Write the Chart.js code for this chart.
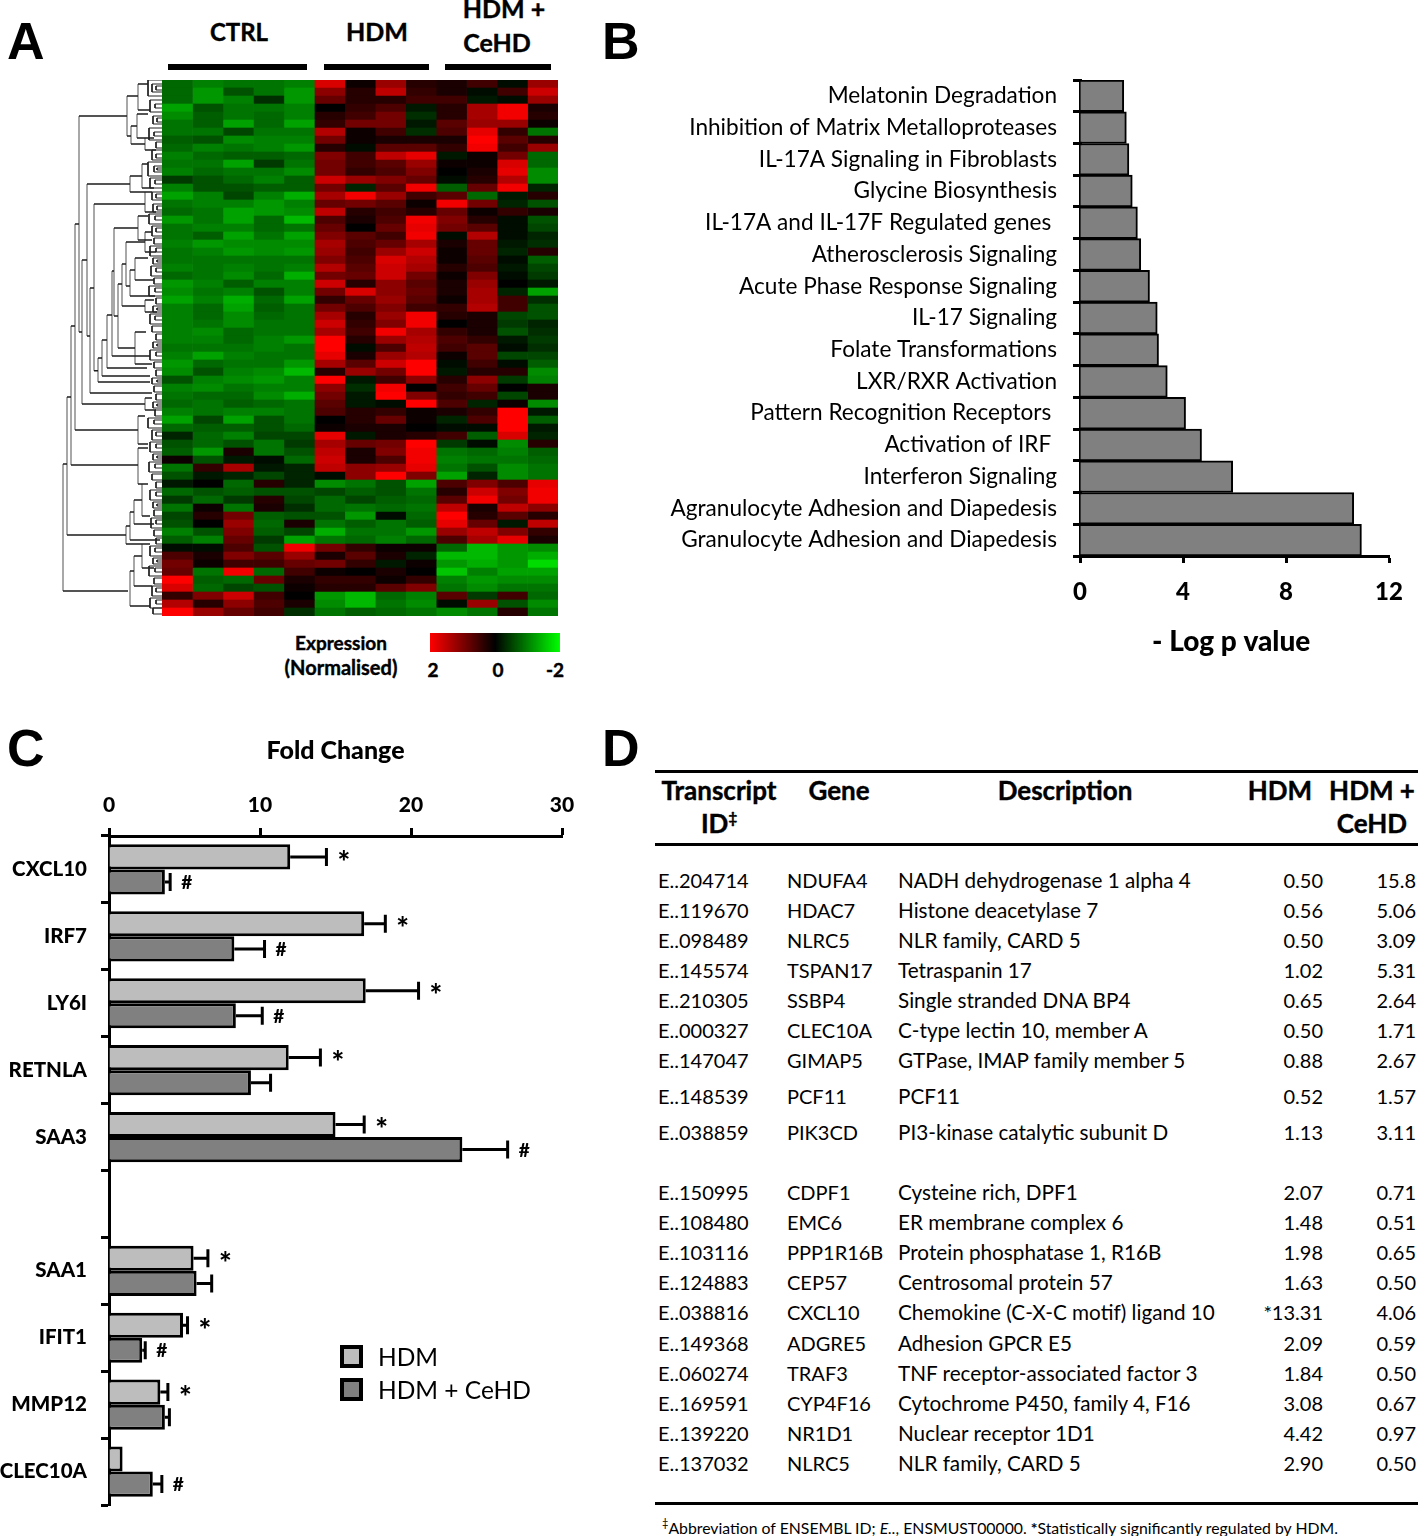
<!DOCTYPE html>
<html>
<head>
<meta charset="utf-8">
<script src="https://cdn.jsdelivr.net/npm/chart.js@4"></script>
<style>
body { margin: 0; background: #fff; width: 1418px; height: 1536px; position: relative; overflow: hidden; font-family: Lato, sans-serif; color: #000; }
canvas { position: absolute; }
.t { position: absolute; white-space: nowrap; transform: translateY(-50%); }
.b { font-weight: bold; -webkit-text-stroke: 0.4px #000; }
.c { transform: translate(-50%, -50%); }
.r { transform: translate(-100%, -50%); }
.letter { font: bold 52px "Liberation Sans", sans-serif; }
.rule { position: absolute; background: #000; }
.swatch { position: absolute; width: 15px; height: 15px; border: 4px solid #000; }
</style>
</head>
<body>
<div class="t letter" style="left:7px;top:41px">A</div>
<div class="t letter" style="left:602px;top:41px">B</div>
<div class="t letter" style="left:7px;top:748px">C</div>
<div class="t letter" style="left:602px;top:748px">D</div>

<div class="t b c" style="left:239px;top:31px;font-size:24px">CTRL</div>
<div class="t b c" style="left:377px;top:31px;font-size:25px">HDM</div>
<div class="t b c" style="left:504px;top:8px;font-size:25px">HDM +</div>
<div class="t b c" style="left:497px;top:42px;font-size:25px">CeHD</div>
<div class="rule" style="left:168px;top:64px;width:139px;height:6px"></div>
<div class="rule" style="left:324px;top:64px;width:105px;height:6px"></div>
<div class="rule" style="left:445px;top:64px;width:106px;height:6px"></div>

<canvas id="dendro" width="100" height="536" style="left:62px;top:80px"></canvas>
<canvas id="heat" width="396" height="536" style="left:162px;top:80px"></canvas>

<div class="t b c" style="left:341px;top:642px;font-size:19px">Expression</div>
<div class="t b c" style="left:341px;top:667px;font-size:20px">(Normalised)</div>
<div style="position:absolute;left:430px;top:633px;width:130px;height:19px;background:linear-gradient(to right,#f00,#000,#0f0)"></div>
<div class="t b c" style="left:433px;top:669px;font-size:19px">2</div>
<div class="t b c" style="left:498px;top:669px;font-size:19px">0</div>
<div class="t b c" style="left:555px;top:669px;font-size:19px">-2</div>

<canvas id="pathways" width="818" height="593" style="left:600px;top:70px"></canvas>
<canvas id="fold" width="600" height="790" style="left:0;top:730px"></canvas>

<div class="swatch" style="left:340px;top:1345px;background:#bdbdbd"></div>
<div class="t" style="left:378px;top:1356px;font-size:24.5px">HDM</div>
<div class="swatch" style="left:340px;top:1378px;background:#808080"></div>
<div class="t" style="left:378px;top:1389px;font-size:24.5px">HDM + CeHD</div>

<div id="table"></div>

<script>
// panel A: one row per 2 leaves, columns CTRL x5, HDM x4, HDM + CeHD x4
const heatRows = [
  [-0.9,-1.1,-1.0,-1.0,-1.1, 1.7, 0.1, 1.2, 0.3, 0.2, 0.5,-0.1, 1.2],
  [-0.9,-1.3,-0.7,-1.0,-1.3, 1.1, 0.3, 1.5, 0.4, 0.2,-0.1, 0.5, 1.6],
  [-0.9,-1.3,-1.1,-0.4,-1.3, 0.8, 0.3, 0.3, 0.5, 0.5,-0.2,-0.1, 1.2],
  [-1.4,-0.7,-1.0,-1.0,-1.1, 0.0, 0.4, 0.6,-0.2, 0.3, 1.3, 1.9, 0.2],
  [-1.2,-0.8,-1.0,-0.9,-1.1, 0.3, 0.5, 0.9,-0.4, 0.3, 1.3, 1.9, 0.3],
  [-1.0,-0.8,-1.4,-0.9,-1.4, 0.4, 0.9, 0.9,-0.2, 0.7, 1.2, 1.2, 0.1],
  [-1.0,-1.0,-0.6,-1.0,-1.0, 1.4, 0.1, 0.5,-0.4, 0.6, 1.8, 0.4,-1.0],
  [-0.8,-0.7,-1.2,-1.1,-1.1, 0.9, 0.1, 0.2, 0.2, 0.2, 2.0, 0.7, 0.3],
  [-0.9,-1.1,-1.0,-1.1,-1.3, 0.3,-0.1, 0.7, 0.7, 0.4, 1.9, 0.5, 1.2],
  [-1.1,-0.9,-0.8,-0.8,-0.9, 1.0, 0.5, 1.5, 1.8,-0.2, 0.1, 0.9,-0.9],
  [-1.0,-1.0,-1.4,-0.5,-1.0, 0.9, 0.5, 0.7, 1.2, 0.1, 0.1, 1.7,-0.9],
  [-1.1,-0.9,-1.0,-1.0,-1.2, 0.9, 0.4, 0.6, 1.0, 0.0, 0.2, 1.8,-1.2],
  [-0.5,-0.7,-0.9,-1.1,-0.8, 1.6, 1.2, 1.0, 0.8,-0.1, 0.3, 1.4,-1.2],
  [-1.1,-0.7,-0.7,-0.8,-0.8, 0.9,-0.3, 0.7, 1.9,-0.8, 0.8, 1.9,-0.3],
  [-1.4,-1.1,-0.6,-1.1,-1.5, 1.3, 1.9, 1.2, 0.5, 0.7,-0.9,-0.2, 0.3],
  [-1.0,-1.1,-1.1,-1.3,-1.1, 0.8, 0.9, 0.7, 0.1, 1.9, 0.9,-0.3,-0.7],
  [-0.9,-1.0,-1.4,-1.3,-1.2, 1.5, 0.3, 0.5, 0.3, 0.8, 0.1, 0.4, 0.2],
  [-1.3,-1.0,-1.4,-0.9,-1.6, 0.6, 0.2, 0.6, 1.9, 1.0, 0.3,-0.1,-0.7],
  [-1.0,-1.1,-1.1,-0.9,-1.0, 0.8, 0.0, 0.8, 1.8, 0.9, 0.7,-0.1,-0.6],
  [-1.0,-0.8,-1.4,-1.0,-1.4, 1.0, 0.7, 0.5, 1.9,-0.1, 1.4,-0.1,-0.3],
  [-1.1,-1.3,-1.2,-1.2,-1.2, 1.3, 0.6, 0.8, 1.3, 0.2, 0.8,-0.2,-0.4],
  [-1.0,-1.1,-1.3,-1.2,-1.3, 1.2, 0.5, 1.2, 1.6, 0.1, 0.8,-0.3, 0.3],
  [-1.0,-1.0,-1.0,-1.0,-1.0, 1.0, 0.6, 1.7, 1.4, 0.1, 0.7,-0.1,-0.8],
  [-1.1,-1.0,-1.1,-1.0,-1.1, 1.4, 0.7, 1.6, 1.3, 0.3, 0.6,-0.2,-0.6],
  [-0.9,-1.0,-1.2,-0.9,-1.5, 0.9, 0.8, 1.6, 0.9, 0.1, 1.0,-0.1,-0.5],
  [-1.3,-1.1,-0.8,-1.1,-1.1, 1.6, 0.3, 1.1, 0.7, 0.2, 1.2, 0.0,-0.2],
  [-1.2,-1.0,-1.1,-0.7,-1.1, 0.9, 1.7, 1.1, 0.8, 0.2, 1.3,-0.3,-1.4],
  [-1.4,-1.1,-1.5,-0.9,-1.4, 0.4, 0.8, 1.2, 0.7, 0.1, 1.3, 0.5,-0.4],
  [-1.1,-0.9,-1.4,-0.8,-1.0, 0.9, 0.6, 1.0, 0.5, 0.4, 1.4, 0.5,-0.7],
  [-1.1,-0.9,-1.2,-0.9,-1.0, 1.3, 0.3, 1.2, 1.9, 0.3, 0.2,-0.6,-0.7],
  [-1.1,-1.0,-1.2,-1.0,-1.0, 1.6, 0.4, 1.0, 1.9, 0.0, 0.2,-0.5,-0.3],
  [-1.1,-1.2,-0.9,-1.0,-1.0, 1.3, 0.5, 1.9, 1.3, 0.4, 0.2,-0.7,-0.4],
  [-1.1,-1.1,-0.9,-1.1,-1.3, 2.0, 0.3, 1.2, 1.4, 0.6, 0.4,-0.2,-0.5],
  [-1.0,-1.0,-1.0,-1.1,-1.0, 2.0,-0.1, 0.6, 1.5, 0.5, 0.7,-0.1,-0.4],
  [-1.1,-1.4,-1.1,-1.0,-1.0, 1.8, 0.2, 1.2, 1.4, 0.1, 0.7,-0.6,-0.6],
  [-1.3,-0.9,-1.0,-1.0,-1.3, 1.3, 0.7, 1.6, 2.0,-0.1, 0.5,-0.1,-0.8],
  [-1.2,-0.7,-1.1,-1.2,-1.6, 0.3, 1.2, 0.9, 2.0,-0.2, 0.3, 0.3,-1.2],
  [-0.7,-1.1,-1.2,-1.3,-1.1, 2.0,-0.2, 0.5, 1.1, 0.3, 1.1,-0.5,-1.1],
  [-1.1,-1.2,-1.0,-1.1,-1.1, 1.1,-0.4, 1.9, 0.0, 0.5, 0.8, 0.0, 0.2],
  [-1.0,-0.9,-0.9,-1.2,-1.5, 0.9,-0.2, 2.0, 1.0, 0.4, 0.5,-0.6, 0.2],
  [-0.9,-1.0,-0.8,-0.9,-1.0, 0.7,-0.2,-0.1, 2.0, 0.6,-0.3, 0.1,-1.2],
  [-1.1,-1.0,-1.1,-1.1,-1.0, 0.6, 0.3, 0.4, 0.1, 0.2, 0.4, 2.0,-0.2],
  [-1.4,-0.6,-1.4,-0.7,-1.0, 0.0, 0.3, 0.8, 0.1,-0.3, 0.6, 2.0,-0.8],
  [-0.9,-0.8,-0.8,-0.7,-0.9, 0.1, 0.2, 0.2, 0.0,-0.1,-0.1, 2.0,-0.2],
  [-0.3,-0.9,-1.1,-0.6,-0.6, 1.8,-0.2, 0.2, 0.3, 0.5,-0.8, 1.7,-0.3],
  [-0.7,-0.9,-0.7,-1.0,-0.5, 1.3, 0.8, 0.9, 2.0,-0.5,-0.1,-1.2, 0.3],
  [-0.8,-1.3, 0.2,-1.0,-0.7, 1.5, 0.2, 1.0, 1.9,-1.0,-0.9,-1.1,-0.8],
  [ 0.1,-0.7,-0.2,-0.1,-0.9, 1.6, 0.2, 0.6, 1.9,-1.1,-1.0,-1.0,-0.9],
  [-1.0, 0.4, 1.3,-0.2,-0.3, 1.5, 1.1, 1.2, 1.8,-1.0,-0.7,-1.2,-1.0],
  [-0.7,-0.2,-0.3,-0.6,-0.3,-0.1, 1.1, 2.0, 1.0,-1.4,-0.3,-1.2,-1.0],
  [-0.2, 0.0,-0.9, 0.3,-0.3,-1.2,-1.0,-0.7,-1.4, 0.6, 1.0, 0.6, 1.8],
  [-0.9,-0.7,-0.8,-0.7,-0.7,-0.6,-0.8,-0.7,-1.0, 0.3, 1.6, 1.0, 1.9],
  [-0.5,-0.9,-0.5, 0.3,-0.6,-0.9,-0.6,-0.8,-0.9, 0.7, 1.9, 0.9, 1.9],
  [-1.0, 0.1,-1.0, 0.2,-0.4,-0.9,-1.0,-0.9,-1.0, 1.5, 0.2, 1.5, 1.1],
  [-0.6, 0.3, 0.9,-0.8,-0.7,-0.7,-1.3,-0.1,-0.9, 2.0, 0.3, 0.7, 0.3],
  [-0.7, 0.0, 1.2,-0.9, 0.2,-1.0,-0.8,-1.0,-0.8, 1.8, 0.8,-0.2, 1.5],
  [-1.1,-0.7, 1.0,-0.8,-0.6,-1.5,-1.0,-1.0,-1.3, 1.2, 1.5, 1.0, 0.4],
  [-0.8,-1.1, 0.8,-0.5,-1.4,-1.0,-0.9,-1.1,-0.9, 0.6, 1.3, 1.8, 0.2],
  [-0.1,-0.1, 0.6,-0.7, 1.9, 0.9, 0.4, 0.1, 0.1,-0.9,-1.6,-1.3,-1.2],
  [ 0.6, 0.2, 1.0, 0.7, 1.2, 0.2, 0.7, 0.2,-0.3,-1.6,-1.6,-1.3,-1.5],
  [ 0.9, 0.1, 0.5, 0.5, 0.8, 0.9, 0.4,-0.2, 0.1,-1.3,-1.5,-1.3,-1.9],
  [ 0.8,-1.0, 1.9,-0.9, 0.5, 0.1, 0.0, 0.2, 0.0,-1.7,-1.1,-1.4,-1.4],
  [ 2.0,-0.8,-0.9, 0.8, 0.2, 0.4, 0.4, 0.1, 0.4,-1.1,-1.3,-1.2,-1.2],
  [ 1.7,-0.9,-0.6,-0.7, 0.1, 0.3, 0.3, 0.7, 1.0,-1.0,-1.2,-1.0,-1.0],
  [ 0.4, 1.0, 1.6, 0.5, 0.0,-1.3,-1.6,-0.9,-1.1, 0.7,-0.5, 0.5,-0.9],
  [ 1.4, 0.3, 1.1, 0.6, 0.2,-1.2,-1.6,-1.0,-1.2,-0.1, 1.2,-0.7,-1.2],
  [ 2.0, 1.2, 0.8, 0.5,-0.4,-1.0,-0.8,-0.9,-1.0,-1.2,-1.0, 0.3,-1.0]
];
const heatColumns = heatRows[0].map((_, i) => "sample" + (i + 1));

// dendrogram branches: [height, top leaf, bottom leaf, height of top child, height of bottom child]
const dendroBranches = [
  [99,96,127.75,95,34],[95,79.25,113.75,91,36],[91,61.5,96.25,87,24],[87,36,87.5,83,24],
  [83,9,63,35,80],[80,45,81,75,17],[75,26,64,32,72],[72,52,78.25,68,10],[68,31,72.7,17,64],
  [64,69.5,75.5,60,12],[60,65,74,55,12],[55,58.75,72,50,15],[50,47.75,69,48,12],[48,37,59,24,44],
  [44,51,67,40,27],[40,46,56.5,36,17],[36,40.5,51.5,17,32],[32,47.5,54,27,7],[27,44.5,50,14,8],
  [27,63,71,16,10],[35,4,14,24,31],[31,11.5,16,25,17],[24,1,7.5,14,12],[25,8.5,14.5,14,10],
  [17,14.5,17.5,8,6],[32,24,28,20,10],[20,21,27,14,8],[17,28,33,10,6],[24,34,40,14,10],
  [17,38,43,10,6],[17,55,58,8,5],[17,79.5,82.5,10,6],[24,84,91,17,14],[24,92,101,14,18],
  [36,111.5,116,32,12],[32,108,115,28,2],[28,105,111,20,8],[20,101,109,14,12],
  [32,122.75,131.5,28,12],[28,119,126.5,20,10],[20,116,122,14,8]
];
// small merges next to the heat map: [height, top leaf, bottom leaf]
const dendroTwigs = [
  [14,0,4],[10,1,3],[6,1.5,2.5],[12,5,8],[7,6,7],[9,9,11],[5,9.5,10.5],[13,12,15],[8,13,14],[6,15.5,17],
  [10,17.5,20],[6,18.5,19.5],[14,20.5,24],[8,21.5,23],[5,22,22.5],[12,24.5,27],[7,25,26],[10,28,30],[6,28.5,29.5],[9,31,33],
  [5,31.5,32.5],[13,33.5,36],[7,34,35],[10,36.5,39],[6,37,38],[8,39.5,41],[12,41.5,44],[6,42,43],[9,44.5,46],[5,45,45.5],
  [11,46.5,49],[6,47,48],[8,49.5,51],[13,51.5,54],[7,52,53],[6,54.5,56],[9,56.5,58],[5,57,57.5],[12,58.5,61],[7,59,60],
  [10,61.5,63],[6,63.5,65],[9,65.5,67],[5,66,66.5],[12,67.5,70],[6,68,69],[8,70.5,72],[6,72.5,74],[10,74.5,76],[5,75,75.5],
  [8,76.5,78],[6,78.5,80],[9,80.5,82],[5,81,81.5],[7,82.5,84],[14,84.5,87],[8,85,86],[10,87.5,90],[6,88,89],[12,90.5,93],
  [6,91,92],[9,93.5,95],[5,94,94.5],[13,95.5,98],[7,96,97],[10,98.5,100],[6,100.5,102],[12,102.5,105],[6,103,104],[9,105.5,107],
  [5,106,106.5],[8,107.5,109],[11,109.5,112],[6,110,111],[8,112.5,114],[6,114.5,116],[12,116.5,119],[7,117,118],[9,119.5,121],[5,120,120.5],
  [13,121.5,124],[7,122,123],[8,124.5,126],[10,126.5,129],[6,127,128],[12,129.5,132],[6,130,131],[9,132,133.5]
];

// panel B
const pathwayNames = [
  "Melatonin Degradation", "Inhibition of Matrix Metalloproteases", "IL-17A Signaling in Fibroblasts",
  "Glycine Biosynthesis", "IL-17A and IL-17F Regulated genes ", "Atherosclerosis Signaling",
  "Acute Phase Response Signaling", "IL-17 Signaling", "Folate Transformations", "LXR/RXR Activation",
  "Pattern Recognition Receptors ", "Activation of IRF ", "Interferon Signaling",
  "Agranulocyte Adhesion and Diapedesis", "Granulocyte Adhesion and Diapedesis"
];
const pathwayLogP = [1.7, 1.8, 1.9, 2.03, 2.23, 2.36, 2.7, 3.0, 3.05, 3.39, 4.1, 4.72, 5.93, 10.63, 10.93];

// panel C
const foldGenes = ["CXCL10", "IRF7", "LY6I", "RETNLA", "SAA3", "", "SAA1", "IFIT1", "MMP12", "CLEC10A"];
const hdmFold = [12.0, 16.9, 17.0, 11.9, 15.0, null, 5.6, 4.9, 3.4, 0.9];
const hdmErrTop = [14.4, 18.3, 20.5, 14.0, 16.9, null, 6.55, 5.2, 3.9, null];
const hdmMark = ["*", "*", "*", "*", "*", "", "*", "*", "*", ""];
const cehdFold = [3.7, 8.3, 8.4, 9.4, 23.4, null, 5.8, 2.2, 3.7, 2.9];
const cehdErrTop = [4.05, 10.3, 10.15, 10.7, 26.4, null, 6.8, 2.4, 4.0, 3.5];
const cehdMark = ["#", "#", "#", "", "#", "", "", "#", "", "#"];

// panel D
const transcriptIds = ["E..204714","E..119670","E..098489","E..145574","E..210305","E..000327","E..147047","E..148539","E..038859",
  "E..150995","E..108480","E..103116","E..124883","E..038816","E..149368","E..060274","E..169591","E..139220","E..137032"];
const tableGenes = ["NDUFA4","HDAC7","NLRC5","TSPAN17","SSBP4","CLEC10A","GIMAP5","PCF11","PIK3CD",
  "CDPF1","EMC6","PPP1R16B","CEP57","CXCL10","ADGRE5","TRAF3","CYP4F16","NR1D1","NLRC5"];
const tableDescriptions = ["NADH dehydrogenase 1 alpha 4","Histone deacetylase 7","NLR family, CARD 5","Tetraspanin 17",
  "Single stranded DNA BP4","C-type lectin 10, member A","GTPase, IMAP family member 5","PCF11","PI3-kinase catalytic subunit D",
  "Cysteine rich, DPF1","ER membrane complex 6","Protein phosphatase 1, R16B","Centrosomal protein 57",
  "Chemokine (C-X-C motif) ligand 10","Adhesion GPCR E5","TNF receptor-associated factor 3","Cytochrome P450, family 4, F16",
  "Nuclear receptor 1D1","NLR family, CARD 5"];
const tableHdm = ["0.50","0.56","0.50","1.02","0.65","0.50","0.88","0.52","1.13","2.07","1.48","1.98","1.63","*13.31","2.09","1.84","3.08","4.42","2.90"];
const tableCehd = ["15.8","5.06","3.09","5.31","2.64","1.71","2.67","1.57","3.11","0.71","0.51","0.65","0.50","4.06","0.59","0.50","0.67","0.97","0.50"];
const tableRowY = [880,910,940,970,1000,1030,1060,1096,1132,1192,1222,1252,1282,1312,1343,1373,1403,1433,1463];

Chart.defaults.animation = false;
Chart.defaults.responsive = false;
Chart.defaults.color = "#000";
Chart.defaults.plugins.legend.display = false;
Chart.defaults.plugins.tooltip.enabled = false;

function heatColor(v) {
  if (v > 0) return `rgb(${Math.round(Math.min(v / 2, 1) * 255)},0,0)`;
  return `rgb(0,${Math.round(Math.min(-v / 2.2, 1) * 255)},0)`;
}

// heat map as stacked bars, one dataset per sample, every cell one unit wide
new Chart(document.getElementById("heat"), {
  type: "bar",
  data: {
    labels: heatRows.map((_, i) => i),
    datasets: heatColumns.map((name, c) => ({
      label: name,
      data: heatRows.map(() => 1),
      backgroundColor: heatRows.map(row => heatColor(row[c])),
      barPercentage: 1,
      categoryPercentage: 1,
      borderWidth: 0
    }))
  },
  options: {
    indexAxis: "y",
    layout: { padding: 0 },
    scales: {
      x: { display: false, stacked: true, min: 0, max: heatColumns.length },
      y: { display: false, stacked: true }
    }
  }
});

// dendrogram, split in the strokes of the big branches and the dark twigs at the leaves
const dendroH = [];
const dendroV = [];
const twigLines = [];
function addBranch(d, top, bottom, dTop, dBottom) {
  dendroV.push({ x: d, y: top }, { x: d, y: bottom }, { x: NaN, y: NaN });
  dendroH.push({ x: d, y: top }, { x: dTop, y: top }, { x: NaN, y: NaN });
  dendroH.push({ x: d, y: bottom }, { x: dBottom, y: bottom }, { x: NaN, y: NaN });
}
dendroBranches.forEach(b => addBranch(b[0], b[1], b[2], b[3], b[4]));
dendroTwigs.forEach(t => {
  twigLines.push({ x: 0, y: t[1] }, { x: t[0], y: t[1] }, { x: t[0], y: t[2] }, { x: 0, y: t[2] }, { x: NaN, y: NaN });
});

new Chart(document.getElementById("dendro"), {
  type: "scatter",
  data: {
    datasets: [
      { data: twigLines, showLine: true, pointRadius: 0, borderColor: "#222", borderWidth: 1, spanGaps: false, order: 0 },
      { data: dendroH, showLine: true, pointRadius: 0, borderColor: "#1c1c1c", borderWidth: 1.5, spanGaps: false, order: 1 },
      { data: dendroV, showLine: true, pointRadius: 0, borderColor: "#a8a8a8", borderWidth: 2, spanGaps: false, order: 2 }
    ]
  },
  options: {
    layout: { padding: 0 },
    scales: {
      x: { display: false, reverse: true, min: 0, max: 100 },
      y: { display: false, reverse: true, min: 0, max: 134 }
    }
  }
});

// the y scale must not ask the layout for room for half a tick label
function dropYPadding(s, width) {
  s.width = width;
  s.paddingTop = 0;
  s.paddingBottom = 0;
}

// panel B
new Chart(document.getElementById("pathways"), {
  type: "bar",
  data: {
    labels: pathwayNames,
    datasets: [{
      data: pathwayLogP,
      backgroundColor: "#808080",
      borderColor: "#000",
      borderWidth: 2,
      barPercentage: 1,
      categoryPercentage: 1
    }]
  },
  options: {
    indexAxis: "y",
    layout: { padding: { top: 10, right: 29 } },
    scales: {
      x: {
        min: 0, max: 12,
        afterFit: s => { s.height = 107; },
        ticks: { stepSize: 4, maxRotation: 0, padding: 15, font: { family: "Lato", weight: "900", size: 24 } },
        grid: { drawOnChartArea: false, tickLength: 7, tickWidth: 3, tickColor: "#000" },
        border: { color: "#000", width: 3 },
        title: { display: true, text: "- Log p value ", padding: { top: 14 }, font: { family: "Lato", weight: "900", size: 28 } }
      },
      y: {
        afterFit: s => dropYPadding(s, 480),
        ticks: { autoSkip: false, padding: 16, font: { family: "Lato", size: 22.6 } },
        grid: { offset: true, drawOnChartArea: false, tickLength: 7, tickWidth: 3, tickColor: "#000" },
        border: { color: "#000", width: 3 }
      }
    }
  }
});

// error bars and significance marks of panel C
const foldMarks = {
  id: "foldMarks",
  afterDatasetsDraw(chart) {
    const ctx = chart.ctx;
    const x = chart.scales.x;
    [[hdmErrTop, hdmMark], [cehdErrTop, cehdMark]].forEach((pair, ds) => {
      const meta = chart.getDatasetMeta(ds);
      pair[0].forEach((top, i) => {
        const bar = meta.data[i];
        if (top === null) return;
        const xTop = x.getPixelForValue(top);
        const y = bar.y;
        const mark = pair[1][i];
        ctx.save();
        ctx.strokeStyle = "#000";
        ctx.lineWidth = 3;
        ctx.beginPath();
        ctx.moveTo(bar.x, y);
        ctx.lineTo(xTop, y);
        ctx.moveTo(xTop, y - 9);
        ctx.lineTo(xTop, y + 9);
        ctx.stroke();
        ctx.fillStyle = "#000";
        ctx.textAlign = "left";
        ctx.textBaseline = "middle";
        ctx.font = mark === "*" ? "900 30px Lato" : "900 19px Lato";
        ctx.fillText(mark, xTop + 11, y + (mark === "*" ? 6 : 1));
        ctx.restore();
      });
    });
  }
};

new Chart(document.getElementById("fold"), {
  type: "bar",
  data: {
    labels: foldGenes,
    datasets: [
      { label: "HDM", data: hdmFold, backgroundColor: "#bdbdbd", borderColor: "#000", borderWidth: 3, barPercentage: 1, categoryPercentage: 0.75 },
      { label: "HDM + CeHD", data: cehdFold, backgroundColor: "#808080", borderColor: "#000", borderWidth: 3, barPercentage: 1, categoryPercentage: 0.75 }
    ]
  },
  options: {
    indexAxis: "y",
    layout: { padding: { right: 38, bottom: 15 } },
    scales: {
      x: {
        position: "top",
        min: 0, max: 30,
        afterFit: s => { s.height = 106; },
        ticks: { stepSize: 10, maxRotation: 0, padding: 10, font: { family: "Lato", weight: "900", size: 21 } },
        grid: { drawOnChartArea: false, tickLength: 8, tickWidth: 3, tickColor: "#000" },
        border: { color: "#000", width: 3 },
        title: { display: true, text: "Fold Change", padding: { top: 6, bottom: 20 }, font: { family: "Lato", weight: "900", size: 25 } }
      },
      y: {
        afterFit: s => dropYPadding(s, 109),
        ticks: { autoSkip: false, padding: 14, font: { family: "Lato", weight: "900", size: 20.5 } },
        grid: { offset: true, drawOnChartArea: false, tickLength: 8, tickWidth: 3, tickColor: "#000" },
        border: { color: "#000", width: 3 }
      }
    }
  },
  plugins: [foldMarks]
});

// panel D, plain text table
const tableBox = document.getElementById("table");
function put(text, x, y, cls, size) {
  const el = document.createElement("div");
  el.className = "t " + cls;
  el.style.left = x + "px";
  el.style.top = y + "px";
  el.style.fontSize = size + "px";
  el.innerHTML = text;
  tableBox.appendChild(el);
}
function rule(y) {
  const el = document.createElement("div");
  el.className = "rule";
  el.style.cssText = `left:655px;top:${y}px;width:763px;height:3px`;
  tableBox.appendChild(el);
}
rule(770); rule(843); rule(1502);
put("Transcript", 719, 790, "b c", 26);
put("ID<span style='font-size:15px;vertical-align:super;line-height:0'>‡</span>", 719, 823, "b c", 26);
put("Gene", 839, 790, "b c", 26);
put("Description", 1065, 790, "b c", 26);
put("HDM", 1280, 790, "b c", 26);
put("HDM +", 1372, 790, "b c", 26);
put("CeHD", 1372, 823, "b c", 26);
transcriptIds.forEach((id, i) => {
  const y = tableRowY[i];
  put(id, 658, y, "", 20);
  put(tableGenes[i], 787, y, "", 20);
  put(tableDescriptions[i], 898, y, "", 20.7);
  put(tableHdm[i], 1323, y, "r", 20);
  put(tableCehd[i], 1416, y, "r", 20);
});
put("<span style='font-size:11px;vertical-align:super;line-height:0'>‡</span>Abbreviation of ENSEMBL ID; <i>E..</i>, ENSMUST00000. <b>*</b>Statistically significantly regulated by HDM.", 662, 1527, "", 15.8);
</script>
</body>
</html>
